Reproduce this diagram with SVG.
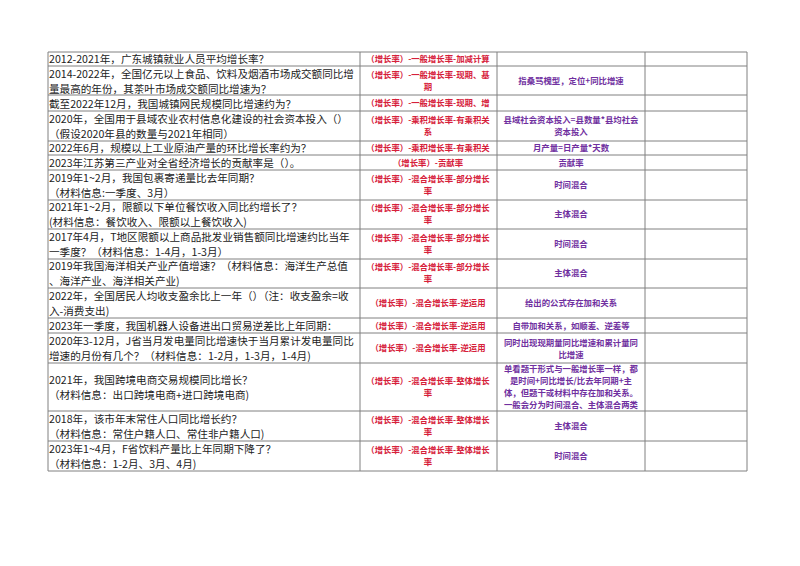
<svg xmlns="http://www.w3.org/2000/svg" width="800" height="566" viewBox="0 0 800 566">
<style>
.q{font-family:"Noto Sans CJK SC","Noto Sans",sans-serif;font-size:10.6px;fill:#222}
.t{font-family:"Noto Sans CJK SC","Noto Sans",sans-serif;font-size:8.4px;font-weight:bold;fill:#d6203a;text-anchor:middle}
.n{font-family:"Noto Sans CJK SC","Noto Sans",sans-serif;font-size:8.4px;font-weight:bold;fill:#7030a0;text-anchor:middle}
.g line{stroke:#808080;stroke-width:1}
</style>
<rect width="800" height="566" fill="#fff"/>
<g id="grid" class="g">
<line x1="48" y1="52" x2="747" y2="52"/><line x1="48" y1="66" x2="747" y2="66"/><line x1="48" y1="95" x2="747" y2="95"/><line x1="48" y1="111" x2="747" y2="111"/><line x1="48" y1="141" x2="747" y2="141"/><line x1="48" y1="155" x2="747" y2="155"/><line x1="48" y1="170" x2="747" y2="170"/><line x1="48" y1="200" x2="747" y2="200"/><line x1="48" y1="229" x2="747" y2="229"/><line x1="48" y1="259" x2="747" y2="259"/><line x1="48" y1="288" x2="747" y2="288"/><line x1="48" y1="318" x2="747" y2="318"/><line x1="48" y1="333" x2="747" y2="333"/><line x1="48" y1="363" x2="747" y2="363"/><line x1="48" y1="411" x2="747" y2="411"/><line x1="48" y1="441" x2="747" y2="441"/><line x1="48" y1="471" x2="747" y2="471"/>
<line x1="48" y1="52" x2="48" y2="471"/><line x1="360" y1="52" x2="360" y2="471"/><line x1="497" y1="52" x2="497" y2="471"/><line x1="645" y1="52" x2="645" y2="471"/><line x1="747" y1="52" x2="747" y2="471"/>
</g>
<g id="col1">
<text class="q" x="49" y="63">2012-2021年，广东城镇就业人员平均增长率？</text>
<text class="q" x="49" y="78">2014-2022年，全国亿元以上食品、饮料及烟酒市场成交额同比增</text>
<text class="q" x="49" y="92.5">量最高的年份，其茶叶市场成交额同比增速为？</text>
<text class="q" x="49" y="107.5">截至2022年12月，我国城镇网民规模同比增速约为？</text>
<text class="q" x="49" y="123">2020年，全国用于县域农业农村信息化建设的社会资本投入（）</text>
<text class="q" x="49" y="137.5">（假设2020年县的数量与2021年相同）</text>
<text class="q" x="49" y="152">2022年6月，规模以上工业原油产量的环比增长率约为？</text>
<text class="q" x="49" y="166.5">2023年江苏第三产业对全省经济增长的贡献率是（）。</text>
<text class="q" x="49" y="182">2019年1~2月，我国包裹寄递量比去年同期？</text>
<text class="q" x="49" y="196.5">（材料信息:一季度、3月）</text>
<text class="q" x="49" y="211">2021年1~2月，限额以下单位餐饮收入同比约增长了？</text>
<text class="q" x="49" y="225.5">(材料信息：餐饮收入、限额以上餐饮收入)</text>
<text class="q" x="49" y="241">2017年4月，T地区限额以上商品批发业销售额同比增速约比当年</text>
<text class="q" x="49" y="255.5">一季度？（材料信息：1-4月，1-3月）</text>
<text class="q" x="49" y="270">2019年我国海洋相关产业产值增速？（材料信息：海洋生产总值</text>
<text class="q" x="49" y="284.5">、海洋产业、海洋相关产业)</text>
<text class="q" x="49" y="300">2022年，全国居民人均收支盈余比上一年（）（注：收支盈余=收</text>
<text class="q" x="49" y="314.5">入-消费支出)</text>
<text class="q" x="49" y="329.5">2023年一季度，我国机器人设备进出口贸易逆差比上年同期：</text>
<text class="q" x="49" y="345">2020年3-12月，J省当月发电量同比增速快于当月累计发电量同比</text>
<text class="q" x="49" y="359.5">增速的月份有几个？（材料信息：1-2月，1-3月，1-4月)</text>
<text class="q" x="49" y="384">2021年，我国跨境电商交易规模同比增长？</text>
<text class="q" x="49" y="399">（材料信息：出口跨境电商+进口跨境电商)</text>
<text class="q" x="49" y="423">2018年，该市年末常住人口同比增长约？</text>
<text class="q" x="49" y="437.5">（材料信息：常住户籍人口、常住非户籍人口)</text>
<text class="q" x="49" y="453">2023年1~4月，F省饮料产量比上年同期下降了？</text>
<text class="q" x="49" y="467.5">（材料信息：1-2月、3月、4月)</text>
</g>
<g id="col2">
<text class="t" x="428" y="62">（增长率）-一般增长率-加减计算</text>
<text class="t" x="428" y="78">（增长率）-一般增长率-现期、基</text>
<text class="t" x="428" y="90">期</text>
<text class="t" x="428" y="106">（增长率）-一般增长率-现期、增</text>
<text class="t" x="428" y="123">（增长率）-乘积增长率-有乘积关</text>
<text class="t" x="428" y="135">系</text>
<text class="t" x="428" y="151">（增长率）-乘积增长率-有乘积关</text>
<text class="t" x="428" y="166">（增长率）-贡献率</text>
<text class="t" x="428" y="182">（增长率）-混合增长率-部分增长</text>
<text class="t" x="428" y="194">率</text>
<text class="t" x="428" y="211">（增长率）-混合增长率-部分增长</text>
<text class="t" x="428" y="223">率</text>
<text class="t" x="428" y="241">（增长率）-混合增长率-部分增长</text>
<text class="t" x="428" y="253">率</text>
<text class="t" x="428" y="270">（增长率）-混合增长率-部分增长</text>
<text class="t" x="428" y="282">率</text>
<text class="t" x="428" y="306">（增长率）-混合增长率-逆运用</text>
<text class="t" x="428" y="329">（增长率）-混合增长率-逆运用</text>
<text class="t" x="428" y="351">（增长率）-混合增长率-逆运用</text>
<text class="t" x="428" y="384">（增长率）-混合增长率-整体增长</text>
<text class="t" x="428" y="396">率</text>
<text class="t" x="428" y="423">（增长率）-混合增长率-整体增长</text>
<text class="t" x="428" y="435">率</text>
<text class="t" x="428" y="453">（增长率）-混合增长率-整体增长</text>
<text class="t" x="428" y="465">率</text>
</g>
<g id="col3">
<text class="n" x="571" y="84">指桑骂槐型，定位+同比增速</text>
<text class="n" x="571" y="123">县域社会资本投入=县数量*县均社会</text>
<text class="n" x="571" y="135">资本投入</text>
<text class="n" x="571" y="151">月产量=日产量*天数</text>
<text class="n" x="571" y="166">贡献率</text>
<text class="n" x="571" y="188">时间混合</text>
<text class="n" x="571" y="217">主体混合</text>
<text class="n" x="571" y="247">时间混合</text>
<text class="n" x="571" y="276">主体混合</text>
<text class="n" x="571" y="306">给出的公式存在加和关系</text>
<text class="n" x="571" y="329">自带加和关系，如顺差、逆差等</text>
<text class="n" x="571" y="346">同时出现现期量同比增速和累计量同</text>
<text class="n" x="571" y="358">比增速</text>
<text class="n" x="571" y="372">单看题干形式与一般增长率一样，都</text>
<text class="n" x="571" y="384">是时间+同比增长/比去年同期+主</text>
<text class="n" x="571" y="396">体，但题干或材料中存在加和关系。</text>
<text class="n" x="571" y="408">一般会分为时间混合、主体混合两类</text>
<text class="n" x="571" y="429">主体混合</text>
<text class="n" x="571" y="459">时间混合</text>
</g>
</svg>
